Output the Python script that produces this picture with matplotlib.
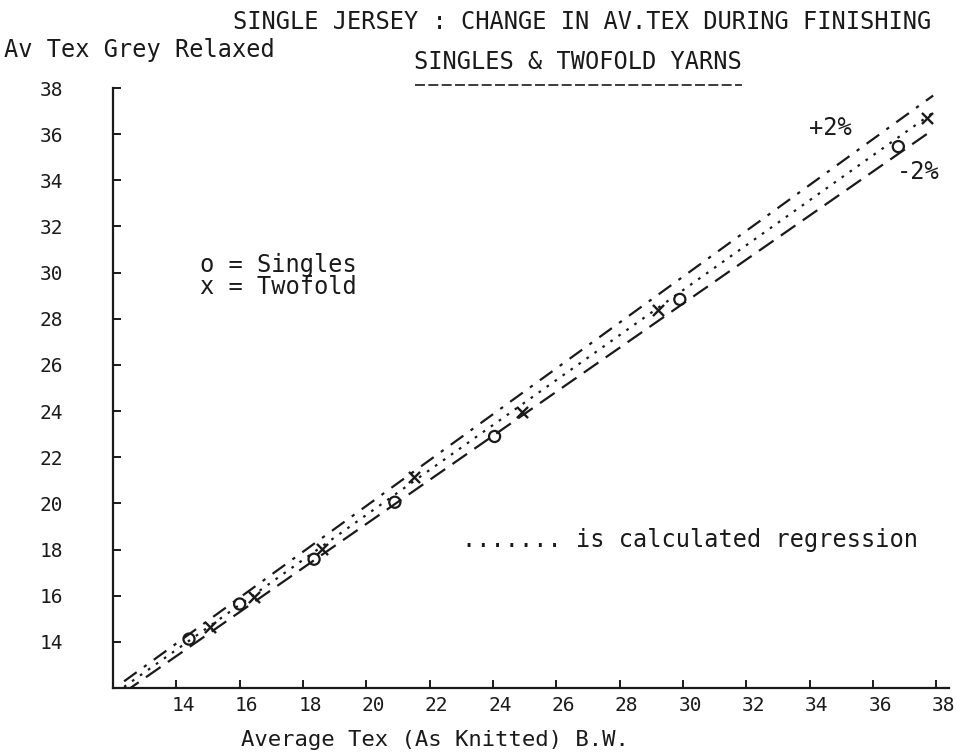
import numpy as np
import matplotlib
matplotlib.use("Agg")
import matplotlib.pyplot as plt
from matplotlib.lines import Line2D
from matplotlib.transforms import ScaledTranslation

# ---- data ----
singles_x = [14.4, 16.0, 18.35, 20.9, 24.05, 29.9, 36.8]
singles_y = [14.12, 15.64, 17.58, 20.05, 22.9, 28.84, 35.46]
twofold_x = [15.05, 16.45, 18.6, 21.5, 24.9, 29.2, 37.7]
twofold_y = [14.64, 15.94, 18.02, 21.13, 23.95, 28.4, 36.72]

reg_intercept = 0.02
reg_slope = 0.974
band_pct = 2.0
reg_x_range = [12.35, 37.9]

xticks = [14, 16, 18, 20, 22, 24, 26, 28, 30, 32, 34, 36, 38]
yticks = [14, 16, 18, 20, 22, 24, 26, 28, 30, 32, 34, 36, 38]

FONT = "DejaVu Sans Mono"
INK = "#1a1a1a"

fig = plt.figure(figsize=(9.73, 7.54), dpi=100)
W, H = 973, 754
ax = fig.add_axes([113 / W, 1 - 688 / H, (949 - 113) / W, (688 - 88) / H])
ax.set_xlim(12, 38.4)
ax.set_ylim(12, 38.0)

xr = np.array(reg_x_range)
yr = reg_intercept + reg_slope * xr
ax.plot(xr, yr * (1 + band_pct / 100), color=INK, lw=1.6,
        dashes=(7, 4, 1.5, 4))
ax.plot(xr, yr, color=INK, lw=1.6, dashes=(1.2, 3.2))
ax.plot(xr, yr * (1 - band_pct / 100), color=INK, lw=1.6, dashes=(8, 4))

ax.scatter(singles_x, singles_y, marker="o", s=64, facecolors="none",
           edgecolors=INK, linewidths=1.6, zorder=3)
ax.scatter(twofold_x, twofold_y, marker="x", s=64, color=INK,
           linewidths=1.7, zorder=3)

for s in ["top", "right"]:
    ax.spines[s].set_visible(False)
for s in ["left", "bottom"]:
    ax.spines[s].set_linewidth(1.6)
    ax.spines[s].set_color(INK)

ax.set_xticks(xticks)
ax.set_yticks(yticks)
ax.set_xticklabels([str(t) for t in xticks], fontfamily=FONT, fontsize=14)
ax.set_yticklabels([str(t) for t in yticks], fontfamily=FONT, fontsize=14)
ax.tick_params(axis="both", direction="in", length=6, width=1.4, colors=INK)
ax.tick_params(axis="y", pad=36)
ax.tick_params(axis="x", pad=6)
for lab in ax.get_xticklabels():
    lab.set_transform(lab.get_transform() + ScaledTranslation(7 / 100, 0, fig.dpi_scale_trans))

def ftext(px, py, s, ha="left", size=17):
    fig.text(px / W, 1 - py / H, s, ha=ha, va="center", fontfamily=FONT,
             fontsize=size, color=INK)

ftext(582, 22, "SINGLE JERSEY : CHANGE IN AV.TEX DURING FINISHING", ha="center")
ftext(4, 50, "Av Tex Grey Relaxed")
ftext(578, 62, "SINGLES & TWOFOLD YARNS", ha="center")
fig.add_artist(Line2D([415 / W, 742 / W], [1 - 85 / H, 1 - 85 / H],
                      transform=fig.transFigure, color=INK, lw=1.2,
                      dashes=(6, 2)))
ftext(435, 740, "Average Tex (As Knitted) B.W.", ha="center", size=16)
ftext(200, 265, "o = Singles")
ftext(200, 287, "x = Twofold")
ftext(462, 540, "....... is calculated regression")
ftext(830, 128, "+2%", ha="center")
ftext(918, 172, "-2%", ha="center")

fig.savefig("out.png", dpi=100, facecolor="white")
